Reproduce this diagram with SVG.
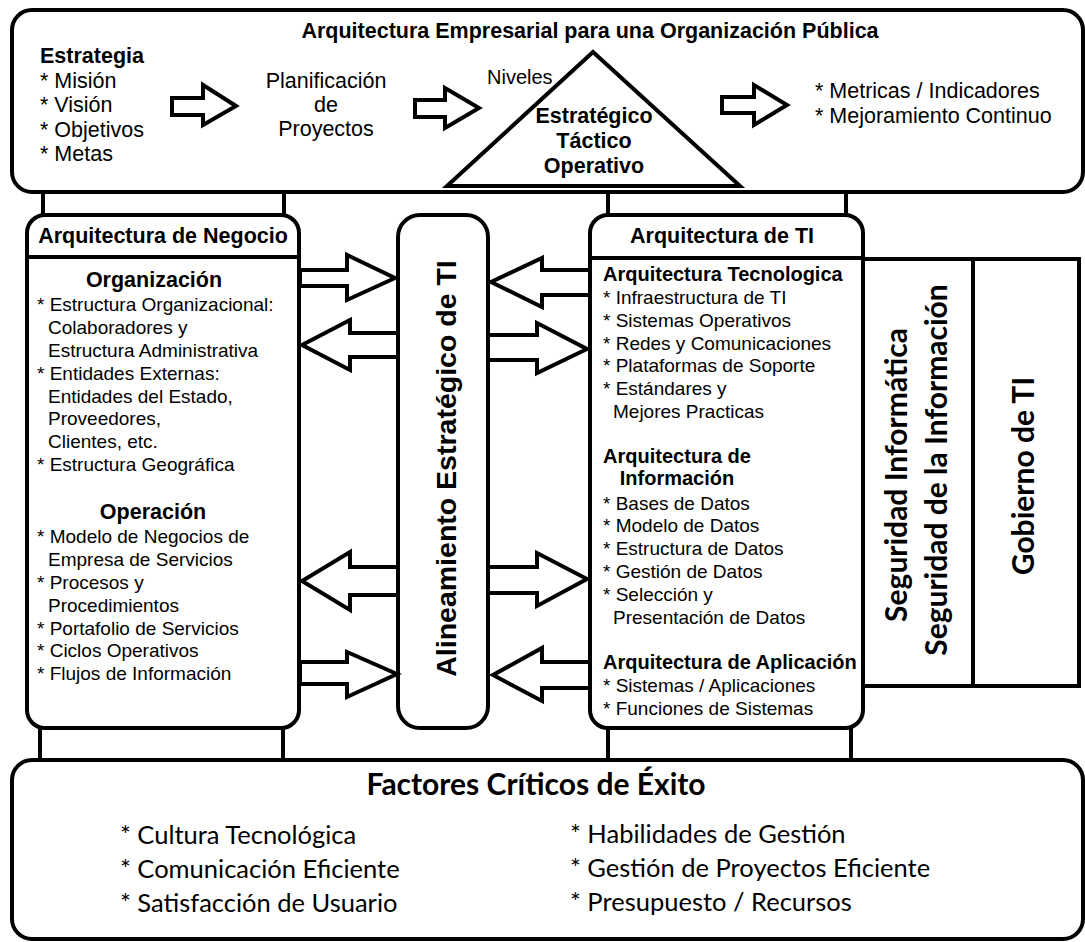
<svg xmlns="http://www.w3.org/2000/svg" width="1085" height="942" viewBox="0 0 1085 942">
  <style>
    .box { fill: #fff; stroke: #000; stroke-width: 4; }
    .ln { fill: none; stroke: #000; stroke-width: 4; }
    .blk { fill: #fff; stroke: #000; stroke-width: 4; stroke-linejoin: miter; }
    .t { font-family: "Liberation Sans", Arial, sans-serif; fill: #000; }
    .c { font-family: Lato, "Open Sans", sans-serif; fill: #000; }
    .b { font-weight: bold; }
    .m { text-anchor: middle; }
    .s19 { font-size: 19px; }
    .s20 { font-size: 20px; }
    .s21 { font-size: 21.5px; }
    .f25 { font-size: 25.5px; }
  </style>
  <rect width="1085" height="942" fill="#fff"/>

  <!-- Top band: enterprise architecture strategy flow -->
  <g id="arquitectura-empresarial">
    <rect class="box" x="12" y="10" width="1071" height="182" rx="20"/>
    <text class="t b s21 m" x="590" y="38">Arquitectura Empresarial para una Organización Pública</text>
    <text class="t b s21" x="40" y="63">Estrategia</text>
    <text class="t s21" x="40" y="87.5">* Misión</text>
    <text class="t s21" x="40" y="112">* Visión</text>
    <text class="t s21" x="40" y="136.5">* Objetivos</text>
    <text class="t s21" x="40" y="161">* Metas</text>
    <text class="t s21 m" x="326" y="88">Planificación</text>
    <text class="t s21 m" x="326" y="112">de</text>
    <text class="t s21 m" x="326" y="136">Proyectos</text>
    <text class="t s20" x="487" y="84">Niveles</text>
    <polygon class="blk" points="593,52 447,186 740,186"/>
    <text class="t b s21 m" x="594" y="123">Estratégico</text>
    <text class="t b s21 m" x="594" y="148">Táctico</text>
    <text class="t b s21 m" x="594" y="172.5">Operativo</text>
    <text class="t s21" x="815" y="97.5">* Metricas / Indicadores</text>
    <text class="t s21" x="815" y="122.5">* Mejoramiento Continuo</text>
  </g>

  <!-- Business architecture -->
  <g id="arquitectura-negocio">
    <rect class="box" x="27" y="215" width="272" height="513" rx="18"/>
    <line class="ln" x1="27" y1="257" x2="299" y2="257"/>
    <text class="t b s21 m" x="163" y="243">Arquitectura de Negocio</text>
    <text class="t b s21 m" x="154" y="287">Organización</text>
    <text class="t s19" x="37" y="311">* Estructura Organizacional:</text>
    <text class="t s19" x="48" y="334">Colaboradores y</text>
    <text class="t s19" x="48" y="357">Estructura Administrativa</text>
    <text class="t s19" x="37" y="379.5">* Entidades Externas:</text>
    <text class="t s19" x="48" y="402.5">Entidades del Estado,</text>
    <text class="t s19" x="48" y="425">Proveedores,</text>
    <text class="t s19" x="48" y="448">Clientes, etc.</text>
    <text class="t s19" x="37" y="471">* Estructura Geográfica</text>
    <text class="t b s21 m" x="153" y="519">Operación</text>
    <text class="t s19" x="37" y="543">* Modelo de Negocios de</text>
    <text class="t s19" x="48" y="566">Empresa de Servicios</text>
    <text class="t s19" x="37" y="589">* Procesos y</text>
    <text class="t s19" x="48" y="611.5">Procedimientos</text>
    <text class="t s19" x="37" y="634.5">* Portafolio de Servicios</text>
    <text class="t s19" x="37" y="657">* Ciclos Operativos</text>
    <text class="t s19" x="37" y="680">* Flujos de Información</text>
  </g>

  <!-- Strategic IT alignment column -->
  <g id="alineamiento">
    <rect class="box" x="398" y="215" width="90" height="513" rx="22"/>
    <text class="t b m" font-size="28.5" transform="translate(456,468.5) rotate(-90)">Alineamiento Estratégico de TI</text>
  </g>

  <!-- IT architecture -->
  <g id="arquitectura-ti">
    <rect class="box" x="590" y="215" width="273" height="513" rx="18"/>
    <line class="ln" x1="590" y1="258" x2="863" y2="258"/>
    <text class="t b s21 m" x="722" y="243">Arquitectura de TI</text>
    <text class="t b s20" x="603" y="281">Arquitectura Tecnologica</text>
    <text class="t s19" x="603" y="303.5">* Infraestructura de TI</text>
    <text class="t s19" x="603" y="326.5">* Sistemas Operativos</text>
    <text class="t s19" x="603" y="349.5">* Redes y Comunicaciones</text>
    <text class="t s19" x="603" y="372">* Plataformas de Soporte</text>
    <text class="t s19" x="603" y="395">* Estándares y</text>
    <text class="t s19" x="613" y="418">Mejores Practicas</text>
    <text class="t b s20 m" x="677" y="463">Arquitectura de</text>
    <text class="t b s20 m" x="677" y="485">Información</text>
    <text class="t s19" x="603" y="509.5">* Bases de Datos</text>
    <text class="t s19" x="603" y="532">* Modelo de Datos</text>
    <text class="t s19" x="603" y="555">* Estructura de Datos</text>
    <text class="t s19" x="603" y="578">* Gestión de Datos</text>
    <text class="t s19" x="603" y="601">* Selección y</text>
    <text class="t s19" x="613" y="623.5">Presentación de Datos</text>
    <text class="t b s20" x="603" y="669">Arquitectura de Aplicación</text>
    <text class="t s19" x="603" y="692">* Sistemas / Aplicaciones</text>
    <text class="t s19" x="603" y="714.5">* Funciones de Sistemas</text>
  </g>

  <!-- Security column -->
  <g id="seguridad">
    <rect class="box" x="863" y="259" width="110" height="427"/>
    <text class="c b m" font-size="30" transform="translate(907,475) rotate(-90)">Seguridad Informática</text>
    <text class="c b m" font-size="30" transform="translate(947,470) rotate(-90)">Seguridad de la Información</text>
  </g>

  <!-- IT governance column -->
  <g id="gobierno">
    <rect class="box" x="973" y="259" width="106" height="427"/>
    <text class="c b m" font-size="30" transform="translate(1034,476) rotate(-90)">Gobierno de TI</text>
  </g>

  <!-- Critical success factors -->
  <g id="factores">
    <rect class="box" x="12" y="760" width="1071" height="179" rx="20"/>
    <text class="c b m" font-size="30" x="536" y="795">Factores Críticos de Éxito</text>
    <text class="c f25" x="120" y="844">* Cultura Tecnológica</text>
    <text class="c f25" x="120" y="878">* Comunicación Eficiente</text>
    <text class="c f25" x="120" y="912">* Satisfacción de Usuario</text>
    <text class="c f25" x="570" y="843">* Habilidades de Gestión</text>
    <text class="c f25" x="570" y="877">* Gestión de Proyectos Eficiente</text>
    <text class="c f25" x="570" y="911">* Presupuesto / Recursos</text>
  </g>

  <!-- Connectors: supports between layers and block arrows -->
  <g id="connectors">
    <path class="ln" d="M43,192V215 M284,192V215 M608,192V215 M846,192V215 M40,728V760 M283,728V760 M608,728V760 M851,728V760"/>
    <path class="blk" d="M172,98H203V85L236,106L203,125V115H172Z"/>
    <path class="blk" d="M415,100H445V88L479,108L445,128V117H415Z"/>
    <path class="blk" d="M722,97H754V85L787,105L754,125V113H722Z"/>
    <path class="blk" d="M300,270H347V255L395,278L347,300V286H300Z"/>
    <path class="blk" d="M398,333H350V320L302,345L350,370V357H398Z"/>
    <path class="blk" d="M398,567H350V552L302,581L350,610V595H398Z"/>
    <path class="blk" d="M300,662H347V652L397,674L347,697V684H300Z"/>
    <path class="blk" d="M590,270H542V258L491,282L542,307V295H590Z"/>
    <path class="blk" d="M488,335H537V323L587,349L537,373V360H488Z"/>
    <path class="blk" d="M488,567H537V553L587,579L537,606V593H488Z"/>
    <path class="blk" d="M590,662H542V648L493,675L542,701V688H590Z"/>
  </g>
</svg>
